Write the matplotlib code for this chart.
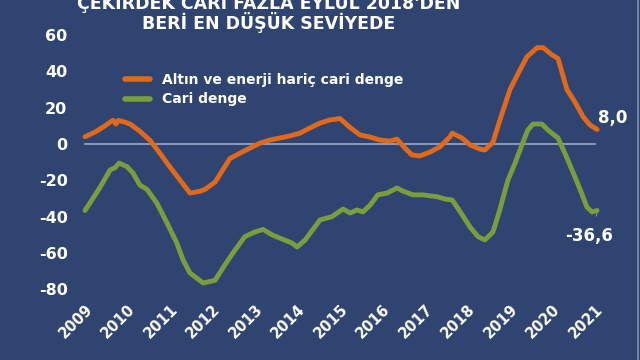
import matplotlib
matplotlib.use("Agg")
from matplotlib import pyplot as plt
from matplotlib.lines import Line2D

# data (decimal years, billion USD, 12-month rolling)
core_t = [2009.00, 2009.24, 2009.47, 2009.59, 2009.66, 2009.73, 2009.78, 2009.94,
          2010.06, 2010.29, 2010.53, 2010.76, 2011.00, 2011.24, 2011.47, 2011.71,
          2011.82, 2012.06, 2012.41, 2012.65, 2012.88, 2013.12, 2013.35, 2013.59,
          2013.82, 2014.06, 2014.29, 2014.53, 2014.76, 2015.00, 2015.24, 2015.47,
          2015.71, 2015.94, 2016.18, 2016.34, 2016.53, 2016.69, 2016.88, 2017.12,
          2017.35, 2017.59, 2017.64, 2017.87, 2018.06, 2018.29, 2018.41, 2018.60,
          2018.76, 2019.00, 2019.24, 2019.40, 2019.64, 2019.78, 2019.99, 2020.13,
          2020.34, 2020.53, 2020.72, 2020.88, 2021.05]
core_v = [4, 6.6, 10, 12, 13, 11, 13, 12,
          11, 7, 2, -5, -12.7, -20, -27, -26,
          -25, -21, -8, -5, -2.3, 0.5, 2.2, 3.3,
          4.4, 6, 8.8, 11.5, 13.2, 14, 9, 5,
          3.8, 2.2, 1.6, 2.7, -2.3, -6, -6.6, -4.4,
          -1.6, 4, 6, 3.3, -0.5, -2.8, -3.3, 1,
          13, 30, 41, 48, 53, 53, 49, 47,
          30, 23, 15, 10.5, 8.0]

cari_t = [2009.00, 2009.35, 2009.59, 2009.71, 2009.80, 2009.99, 2010.13, 2010.29,
          2010.46, 2010.69, 2010.93, 2011.16, 2011.31, 2011.47, 2011.78, 2012.06,
          2012.29, 2012.48, 2012.76, 2013.00, 2013.19, 2013.40, 2013.64, 2013.87,
          2013.99, 2014.18, 2014.41, 2014.53, 2014.81, 2015.07, 2015.24, 2015.40,
          2015.54, 2015.71, 2015.89, 2016.11, 2016.34, 2016.48, 2016.72, 2016.95,
          2017.28, 2017.47, 2017.64, 2017.82, 2018.06, 2018.25, 2018.41, 2018.60,
          2018.76, 2018.95, 2019.12, 2019.28, 2019.42, 2019.54, 2019.75, 2019.89,
          2020.13, 2020.29, 2020.48, 2020.65, 2020.81, 2020.93, 2021.05]
cari_v = [-36.6, -24, -14.3, -13, -10.5, -12.5, -16, -22.6,
          -25, -32.5, -43.5, -54.5, -64, -71, -76.5, -75,
          -66.6, -60, -51, -48.4, -47, -50, -52.3, -54.5,
          -56.7, -52.8, -45.6, -41.8, -40, -35.8, -38, -36.3,
          -37.4, -33.6, -28, -27, -24.2, -25.9, -28, -28,
          -29, -30.3, -30.8, -37, -45.7, -51, -52.8, -48.4,
          -36.3, -20, -10.5, -0.5, 7.7, 11, 11, 7.7,
          3.3, -5, -15.4, -25, -34.7, -37.4, -36.6]

years = list(range(2009, 2022))
yticks = [-80, -60, -40, -20, 0, 20, 40, 60]
labels = ['Altın ve enerji hariç cari denge', 'Cari denge']
end_labels = ['8,0', '-36,6']

bg = '#2f4470'
orange = '#e0691c'
green = '#7a9e3e'

fig = plt.figure(figsize=(6.4, 3.6), dpi=100)
fig.patch.set_facecolor(bg)
ax = fig.add_axes([0.125, 0.171, 0.8125, 0.742])
ax.set_facecolor(bg)

ax.axhline(0, color='#9aa8c8', lw=1.2, xmin=0.01, xmax=0.99, zorder=1)
ax.plot(core_t, core_v, color=orange, lw=3.5, solid_capstyle='round', zorder=3)
ax.plot(cari_t, cari_v, color=green, lw=3.5, solid_capstyle='round', zorder=3)

ax.set_xlim(2008.882, 2021.118)
ax.set_ylim(-85, 62)
for s in ax.spines.values():
    s.set_visible(False)

ax.set_yticks(yticks)
ax.set_yticklabels([str(v) for v in yticks], fontsize=11.5, fontweight='bold', color='white')
ax.set_xticks(years)
ax.set_xticklabels([str(y) for y in years], fontsize=10.5, fontweight='bold', color='white',
                   rotation=45, ha='right', va='top', rotation_mode='anchor')
ax.tick_params(axis='y', length=0, pad=9)
ax.tick_params(axis='x', length=0, pad=2)

# end labels
ax.text(core_t[-1] + 0.02, core_v[-1] + 6.5, end_labels[0], fontsize=12, fontweight='bold',
        color='white', ha='left', va='center')
ax.annotate(end_labels[1], xy=(cari_t[-1], cari_v[-1] - 1.5),
            xytext=(cari_t[-1] - 0.75, cari_v[-1] - 14),
            fontsize=12, fontweight='bold', color='white', ha='left', va='center',
            arrowprops=dict(arrowstyle='-', color='#9aa8c8', lw=0.6, shrinkA=6, shrinkB=0))

handles = [Line2D([], [], color=orange, lw=4, solid_capstyle='round'),
           Line2D([], [], color=green, lw=4, solid_capstyle='round')]
leg = ax.legend(handles, labels, loc='upper left', bbox_to_anchor=(0.075, 0.865),
                frameon=False, fontsize=10, handlelength=1.8, handletextpad=0.9,
                labelspacing=0.4, borderaxespad=0)
for t in leg.get_texts():
    t.set_color('white')
    t.set_fontweight('bold')

fig.text(0.42, 0.993, "ÇEKİRDEK CARİ FAZLA EYLÜL 2018'DEN", ha='center', va='center',
         fontsize=12.5, fontweight='bold', color='white')
fig.text(0.42, 0.938, 'BERİ EN DÜŞÜK SEVİYEDE', ha='center', va='center',
         fontsize=12.5, fontweight='bold', color='white')

# thin light border at the right edge
fig.add_artist(Line2D([0.997, 0.997], [0, 1], transform=fig.transFigure,
                      color='#8090b0', lw=1.2))

fig.savefig('out.png', dpi=100, facecolor=bg)
